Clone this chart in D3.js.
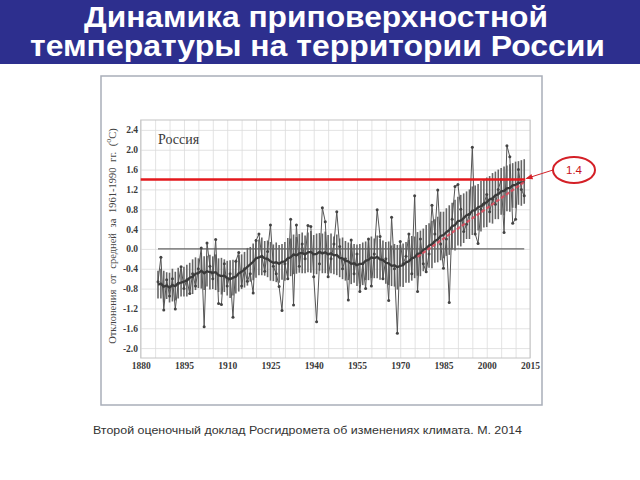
<!DOCTYPE html>
<html><head><meta charset="utf-8">
<script src="https://cdn.jsdelivr.net/npm/d3@7"></script>
<style>html,body{margin:0;padding:0;background:#fff;}svg{display:block;}</style>
</head><body>
<script>
// ---- data ----
const titleLines = ["Динамика приповерхностной", "температуры на территории России"];
const caption = "Второй оценочный доклад Росгидромета об изменениях климата. М. 2014";
const regionLabel = "Россия";
const xTicks = [1880, 1895, 1910, 1925, 1940, 1955, 1970, 1985, 2000, 2015];
const yTicks = [-2.0, -1.6, -1.2, -0.8, -0.4, 0.0, 0.4, 0.8, 1.2, 1.6, 2.0, 2.4];
const firstYear = 1886, lastYear = 2013;
const years = d3.range(firstYear, lastYear + 1);
const anomaly = [
 -0.66,-0.17,-1.23,-0.62,-0.95,-0.60,-1.21,-0.70,-0.36,-0.80,
 -0.62,-0.90,-0.50,-0.75,-0.40, 0.02,-1.57, 0.12,-0.35,-0.60,
  0.19,-1.10,-1.12,-0.30,-0.75,-0.50,-1.38,-0.25,-0.07,-0.75,
 -0.40,-0.65,-0.50,-0.89, 0.17, 0.30,-0.15,-0.45,-0.05, 0.48,
 -0.35,-0.50,-0.76,-1.24,-0.30,-0.60, 0.60,-1.13, 0.48,-0.35,
  0.10,-0.20, 0.47, 0.45,-0.56,-1.47,-0.30, 0.83, 0.55,-0.56,
 -0.20, 0.10, 0.75, 0.05,-0.40,-0.20,-1.03, 0.18,-0.50,-0.10,
 -0.86,-0.30,-0.80, 0.20,-0.75,-0.10, 0.79, 0.25,-0.60,-0.20,
 -1.04, 0.64,-0.40,-1.70, 0.15,-0.30,-0.15, 0.30,-0.50, 1.07,
 -0.86, 0.20,-0.30,-0.46,-0.10, 0.88, 0.30, 1.19, 0.10,-0.39,
  0.20,-1.08, 0.60, 1.26, 1.30, 0.80, 0.35, 0.50, 0.70, 2.05,
  0.30, 0.11, 0.80, 0.90, 1.10, 0.75, 1.00, 0.90, 1.20, 1.40,
  0.33, 2.08, 1.86, 0.52, 0.60, 1.60, 1.20, 1.07];
const smooth = [
 -0.72,-0.70,-0.76,-0.74,-0.78,-0.73,-0.75,-0.69,-0.68,-0.66,
 -0.64,-0.58,-0.56,-0.50,-0.49,-0.44,-0.49,-0.45,-0.47,-0.48,
 -0.47,-0.53,-0.55,-0.54,-0.59,-0.61,-0.58,-0.56,-0.49,-0.46,
 -0.42,-0.36,-0.31,-0.26,-0.19,-0.17,-0.15,-0.19,-0.20,-0.25,
 -0.28,-0.27,-0.30,-0.26,-0.25,-0.19,-0.17,-0.11,-0.13,-0.09,
 -0.08,-0.11,-0.07,-0.06,-0.11,-0.10,-0.06,-0.09,-0.07,-0.11,
 -0.09,-0.13,-0.12,-0.18,-0.19,-0.24,-0.25,-0.30,-0.29,-0.33,
 -0.30,-0.30,-0.24,-0.22,-0.17,-0.19,-0.16,-0.21,-0.22,-0.28,
 -0.29,-0.34,-0.33,-0.37,-0.34,-0.33,-0.27,-0.25,-0.19,-0.17,
 -0.10,-0.09,-0.02, 0.01, 0.07, 0.09, 0.16, 0.19, 0.26, 0.28,
  0.34, 0.38, 0.46, 0.48, 0.56, 0.57, 0.62, 0.68, 0.70, 0.77,
  0.78, 0.84, 0.86, 0.92, 0.94, 1.00, 1.02, 1.08, 1.10, 1.16,
  1.17, 1.22, 1.23, 1.28, 1.29, 1.33, 1.33, 1.36];
const halfWidth = [
 0.28,0.30,0.32,0.27,0.30,0.33,0.29,0.31,0.28,0.30,
 0.32,0.30,0.35,0.33,0.30,0.36,0.34,0.31,0.35,0.33,
 0.36,0.34,0.37,0.33,0.35,0.38,0.36,0.34,0.37,0.35,
 0.36,0.38,0.35,0.37,0.39,0.36,0.38,0.35,0.37,0.39,
 0.37,0.40,0.38,0.36,0.39,0.41,0.38,0.40,0.37,0.39,
 0.41,0.38,0.40,0.42,0.39,0.41,0.38,0.40,0.42,0.39,
 0.40,0.38,0.41,0.39,0.42,0.40,0.38,0.41,0.39,0.42,
 0.40,0.43,0.39,0.41,0.42,0.40,0.43,0.41,0.39,0.42,
 0.44,0.41,0.43,0.45,0.42,0.44,0.41,0.43,0.45,0.42,
 0.44,0.46,0.43,0.47,0.45,0.48,0.44,0.46,0.49,0.47,
 0.48,0.50,0.47,0.51,0.49,0.52,0.50,0.48,0.50,0.49,
 0.50,0.47,0.51,0.49,0.50,0.47,0.51,0.48,0.50,0.47,
 0.49,0.46,0.48,0.45,0.47,0.44,0.46,0.45];
const referenceLevel = 1.4;           // red horizontal line
const referenceLabel = "1.4";
const trendStart = [1976, -0.16], trendEnd = [2013, 1.35];

// ---- drawing ----
const W = 640, H = 480;
const svg = d3.select("body").append("svg").attr("width", W).attr("height", H);

// title banner
svg.append("rect").attr("x", 0).attr("y", 0).attr("width", W).attr("height", 64).attr("fill", "#2d2f8e");
const tl = [{t: titleLines[0], y: 27, x0: 84, x1: 548}, {t: titleLines[1], y: 56, x0: 30, x1: 605}];
tl.forEach(d => {
  svg.append("text").attr("x", d.x0).attr("y", d.y)
    .attr("textLength", d.x1 - d.x0).attr("lengthAdjust", "spacingAndGlyphs")
    .attr("font-family", "Liberation Sans, Arial, sans-serif").attr("font-weight", "bold")
    .attr("font-size", 29).attr("fill", "#fff").text(d.t);
});

// image box
svg.append("rect").attr("x", 101).attr("y", 76).attr("width", 441).attr("height", 329)
  .attr("fill", "#fff").attr("stroke", "#a9aeb9").attr("stroke-width", 1.5);

const x = d3.scaleLinear().domain([1880, 2015]).range([140.7, 530]);
const y = d3.scaleLinear().domain([-2.2, 2.6]).range([358, 120]);
const serif = "Liberation Serif, Times New Roman, serif";

// grid
const gx = svg.append("g").attr("transform", "translate(0,358)")
  .call(d3.axisBottom(x).tickValues(d3.range(1880, 2016, 5)).tickSize(-238).tickFormat(""));
gx.selectAll("line").attr("stroke", "#dcdcdc").attr("stroke-width", 0.8);
gx.select(".domain").remove();
const gy = svg.append("g").attr("transform", "translate(140.7,0)")
  .call(d3.axisLeft(y).tickValues(yTicks).tickSize(-(530 - 140.7)).tickFormat(""));
gy.selectAll("line").attr("stroke", "#dcdcdc").attr("stroke-width", 0.8);
gy.select(".domain").remove();

// frame
svg.append("rect").attr("x", 140.7).attr("y", 120).attr("width", 530 - 140.7).attr("height", 238)
  .attr("fill", "none").attr("stroke", "#c4c4c4").attr("stroke-width", 1);

// axes labels
const fmt = d => (Math.abs(d) < 1e-9 ? 0 : d).toFixed(1);
const ay = svg.append("g").attr("transform", "translate(140,0)")
  .call(d3.axisLeft(y).tickValues(yTicks).tickSize(0).tickPadding(2).tickFormat(fmt));
ay.select(".domain").remove();
ay.selectAll("text").attr("font-family", serif).attr("font-weight", "bold").attr("font-size", 9.5).attr("fill", "#3a3a3a");
const ax = svg.append("g").attr("transform", "translate(0,359)")
  .call(d3.axisBottom(x).tickValues(xTicks).tickSize(0).tickPadding(3).tickFormat(d3.format("d")));
ax.select(".domain").remove();
ax.selectAll("text").attr("font-family", serif).attr("font-weight", "bold").attr("font-size", 9.5).attr("fill", "#3a3a3a");

// y title
const yt = svg.append("text").attr("transform", "translate(116,236) rotate(-90)")
  .attr("text-anchor", "middle").attr("font-family", serif).attr("font-size", 10.5)
  .attr("fill", "#444").attr("word-spacing", 3);
yt.append("tspan").text("Отклонения от средней за 1961-1990 гг. (");
yt.append("tspan").attr("dy", -5).attr("font-size", 8).text("o");
yt.append("tspan").attr("dy", 5).text("C)");

// region label
svg.append("text").attr("x", 158).attr("y", 144).attr("font-family", serif)
  .attr("font-size", 14).attr("fill", "#3a3a3a").text(regionLabel);

// zero line
svg.append("line").attr("x1", x(firstYear)).attr("x2", x(lastYear))
  .attr("y1", y(0)).attr("y2", y(0)).attr("stroke", "#666").attr("stroke-width", 1.2);

const data = years.map((yr, i) => ({yr, v: anomaly[i], s: smooth[i], h: halfWidth[i]}));

// error bars
svg.append("g").selectAll("line").data(data).join("line")
  .attr("x1", d => x(d.yr)).attr("x2", d => x(d.yr))
  .attr("y1", d => y(d.s - d.h)).attr("y2", d => y(d.s + d.h))
  .attr("stroke", "#666").attr("stroke-width", 1.6);

// annual line + points
svg.append("path").datum(data)
  .attr("d", d3.line().x(d => x(d.yr)).y(d => y(d.v)))
  .attr("fill", "none").attr("stroke", "#555").attr("stroke-width", 1);
svg.append("g").selectAll("circle").data(data).join("circle")
  .attr("cx", d => x(d.yr)).attr("cy", d => y(d.v)).attr("r", 1.5).attr("fill", "#444");

// smoothed line
svg.append("path").datum(data)
  .attr("d", d3.line().x(d => x(d.yr)).y(d => y(d.s)))
  .attr("fill", "none").attr("stroke", "#3a3a3a").attr("stroke-width", 2.3);

// trend (red dashed)
svg.append("line").attr("x1", x(trendStart[0])).attr("y1", y(trendStart[1]))
  .attr("x2", x(trendEnd[0])).attr("y2", y(trendEnd[1]))
  .attr("stroke", "#e0485a").attr("stroke-width", 2.2).attr("stroke-dasharray", "4,2").attr("opacity", 0.85);

// reference red line
svg.append("line").attr("x1", 140.7).attr("x2", x(lastYear) + 1)
  .attr("y1", y(referenceLevel)).attr("y2", y(referenceLevel))
  .attr("stroke", "#e3181c").attr("stroke-width", 2.6);

// callout
svg.append("defs").append("marker").attr("id", "arr").attr("viewBox", "0 0 10 10")
  .attr("refX", 9).attr("refY", 5).attr("markerWidth", 7).attr("markerHeight", 7).attr("orient", "auto")
  .append("path").attr("d", "M0,1 L10,5 L0,9 z").attr("fill", "#d42027");
svg.append("line").attr("x1", 553).attr("y1", 170).attr("x2", x(lastYear) + 2).attr("y2", y(referenceLevel) - 1)
  .attr("stroke", "#d42027").attr("stroke-width", 1).attr("marker-end", "url(#arr)");
svg.append("ellipse").attr("cx", 574).attr("cy", 170).attr("rx", 21).attr("ry", 13)
  .attr("fill", "#fff").attr("stroke", "#d42027").attr("stroke-width", 2);
svg.append("text").attr("x", 574).attr("y", 174).attr("text-anchor", "middle")
  .attr("font-family", "Liberation Sans, Arial, sans-serif").attr("font-size", 11.5)
  .attr("fill", "#c8141c").text(referenceLabel);

// caption
svg.append("text").attr("x", 93).attr("y", 434).attr("font-family", "Liberation Sans, Arial, sans-serif")
  .attr("font-size", 11.5).attr("fill", "#333").attr("textLength", 429).attr("lengthAdjust", "spacingAndGlyphs")
  .text(caption);
</script>
</body></html>
